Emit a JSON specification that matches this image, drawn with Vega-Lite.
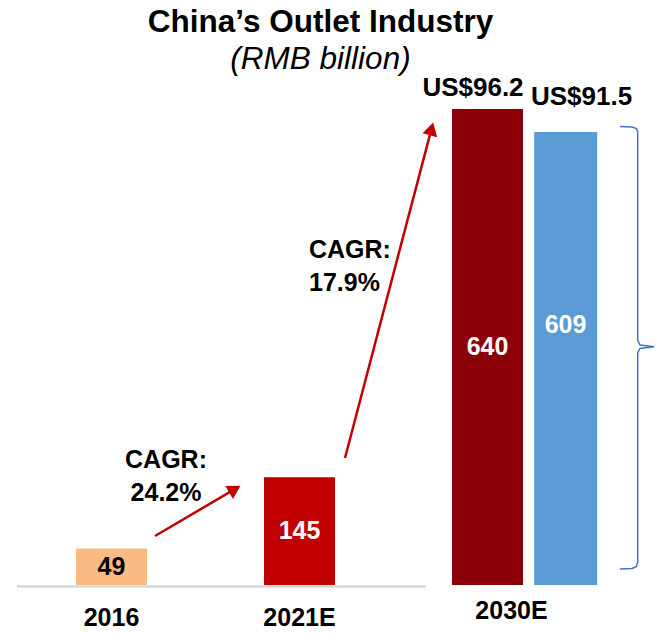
{
  "$schema": "https://vega.github.io/schema/vega-lite/v6.json",
  "width": 659,
  "height": 505,
  "autosize": {"type": "none"},
  "padding": {"left": 0, "top": 80, "right": 0, "bottom": 51},
  "background": "white",
  "config": {"view": {"stroke": null}},
  "title": {
    "text": "China’s Outlet Industry",
    "subtitle": "(RMB billion)",
    "anchor": "middle",
    "dx": -9,
    "offset": 0,
    "subtitlePadding": 5,
    "font": "Liberation Sans",
    "fontSize": 31.5,
    "fontWeight": "bold",
    "color": "#000000",
    "subtitleFont": "Liberation Sans",
    "subtitleFontSize": 31.5,
    "subtitleFontStyle": "italic",
    "subtitleColor": "#000000"
  },
  "datasets": {
    "bars": [
      {"period": "2016", "series": "RMB", "key": "2016", "value": 49, "usd": ""},
      {"period": "2021E", "series": "RMB", "key": "2021E", "value": 145, "usd": ""},
      {"period": "2030E", "series": "RMB", "key": "2030E RMB", "value": 640, "usd": "US$96.2"},
      {"period": "2030E", "series": "USD", "key": "2030E USD", "value": 609, "usd": "US$91.5"}
    ],
    "arrows": [
      {"id": "a1", "x": 0.2314, "y": 65.9, "x2": 0.6559, "y2": 128.9},
      {"id": "a2", "x": 1.2420, "y": 170.8, "x2": 1.7021, "y2": 613.3}
    ],
    "notes": [
      {"id": "n1", "x": 0.2899, "y": 168.1, "text": "CAGR:\n24.2%"},
      {"id": "n2", "x": 1.0505, "y": 450.4, "text": "CAGR:\n17.9%"}
    ],
    "brace": [
      {"i": 1, "x": 2.7048, "y": 616.5},
      {"i": 2, "x": 2.7686, "y": 615.8},
      {"i": 3, "x": 2.7926, "y": 613.8},
      {"i": 4, "x": 2.7989, "y": 609.1},
      {"i": 5, "x": 2.7989, "y": 329.4},
      {"i": 6, "x": 2.8112, "y": 322.7},
      {"i": 7, "x": 2.8856, "y": 320.4},
      {"i": 8, "x": 2.8112, "y": 318.0},
      {"i": 9, "x": 2.7989, "y": 311.9},
      {"i": 10, "x": 2.7989, "y": 30.9},
      {"i": 11, "x": 2.7926, "y": 24.9},
      {"i": 12, "x": 2.7686, "y": 22.2},
      {"i": 13, "x": 2.7048, "y": 21.5}
    ]
  },
  "resolve": {"scale": {"x": "independent"}},
  "layer": [
    {
      "layer": [
        {
          "data": {"values": [{"from": -0.5027, "to": 1.6729}]},
          "mark": {"type": "rule", "color": "#D9D9D9", "strokeWidth": 2.5},
          "encoding": {
            "x": {"field": "from", "type": "quantitative", "axis": null, "scale": {"domain": [-0.5931, 2.9122], "nice": false, "zero": false}},
            "x2": {"field": "to"},
            "y": {"datum": -2, "type": "quantitative", "axis": null, "scale": {"domain": [0, 679], "nice": false, "zero": false}}
          }
        },
        {
          "data": {"name": "arrows"},
          "mark": {"type": "rule", "color": "#C00000", "strokeWidth": 2.5},
          "encoding": {
            "x": {"field": "x", "type": "quantitative", "axis": null, "scale": {"domain": [-0.5931, 2.9122], "nice": false, "zero": false}},
            "x2": {"field": "x2"},
            "y": {"field": "y", "type": "quantitative", "axis": null, "scale": {"domain": [0, 679], "nice": false, "zero": false}},
            "y2": {"field": "y2"}
          }
        },
        {
          "data": {"name": "arrows"},
          "transform": [{"filter": "datum.id === 'a1'"}],
          "mark": {"type": "point", "shape": "triangle-up", "filled": true, "size": 230, "angle": 59.5, "color": "#C00000", "opacity": 1},
          "encoding": {
            "x": {"field": "x2", "type": "quantitative", "axis": null, "scale": {"domain": [-0.5931, 2.9122], "nice": false, "zero": false}},
            "y": {"field": "y2", "type": "quantitative", "axis": null, "scale": {"domain": [0, 679], "nice": false, "zero": false}}
          }
        },
        {
          "data": {"name": "arrows"},
          "transform": [{"filter": "datum.id === 'a2'"}],
          "mark": {"type": "point", "shape": "triangle-up", "filled": true, "size": 230, "angle": 14.7, "color": "#C00000", "opacity": 1},
          "encoding": {
            "x": {"field": "x2", "type": "quantitative", "axis": null, "scale": {"domain": [-0.5931, 2.9122], "nice": false, "zero": false}},
            "y": {"field": "y2", "type": "quantitative", "axis": null, "scale": {"domain": [0, 679], "nice": false, "zero": false}}
          }
        },
        {
          "data": {"name": "notes"},
          "transform": [{"filter": "datum.id === 'n1'"}],
          "mark": {"type": "text", "align": "center", "baseline": "middle", "lineBreak": "\n", "lineHeight": 33, "font": "Liberation Sans", "fontSize": 25, "fontWeight": "bold", "color": "#000000"},
          "encoding": {
            "x": {"field": "x", "type": "quantitative", "axis": null, "scale": {"domain": [-0.5931, 2.9122], "nice": false, "zero": false}},
            "y": {"field": "y", "type": "quantitative", "axis": null, "scale": {"domain": [0, 679], "nice": false, "zero": false}},
            "text": {"field": "text"}
          }
        },
        {
          "data": {"name": "notes"},
          "transform": [{"filter": "datum.id === 'n2'"}],
          "mark": {"type": "text", "align": "left", "baseline": "middle", "lineBreak": "\n", "lineHeight": 33, "font": "Liberation Sans", "fontSize": 25, "fontWeight": "bold", "color": "#000000"},
          "encoding": {
            "x": {"field": "x", "type": "quantitative", "axis": null, "scale": {"domain": [-0.5931, 2.9122], "nice": false, "zero": false}},
            "y": {"field": "y", "type": "quantitative", "axis": null, "scale": {"domain": [0, 679], "nice": false, "zero": false}},
            "text": {"field": "text"}
          }
        },
        {
          "data": {"name": "brace"},
          "mark": {"type": "line", "color": "#4472C4", "strokeWidth": 1.5},
          "encoding": {
            "x": {"field": "x", "type": "quantitative", "axis": null, "scale": {"domain": [-0.5931, 2.9122], "nice": false, "zero": false}},
            "y": {"field": "y", "type": "quantitative", "axis": null, "scale": {"domain": [0, 679], "nice": false, "zero": false}},
            "order": {"field": "i", "type": "quantitative"}
          }
        }
      ]
    },
    {
      "data": {"name": "bars"},
      "layer": [
        {
          "transform": [{"filter": "datum.series === 'RMB'"}],
          "mark": {"type": "bar"},
          "encoding": {
            "x": {"field": "period", "type": "nominal", "axis": null, "scale": {"domain": ["2016", "2021E", "2030E"], "paddingInner": 0.2287, "paddingOuter": 0.367, "align": 0.5507}},
            "xOffset": {"field": "series", "type": "nominal", "scale": {"domain": ["RMB", "USD"], "paddingInner": 0.0405, "paddingOuter": 0}},
            "y": {"field": "value", "type": "quantitative", "axis": null, "scale": {"domain": [0, 679], "nice": false, "zero": false}},
            "color": {"field": "key", "type": "nominal", "legend": null, "scale": {"domain": ["2016", "2021E", "2030E RMB", "2030E USD"], "range": ["#F8BB84", "#C00000", "#8C000A", "#5B9BD5"]}}
          }
        },
        {
          "transform": [{"filter": "datum.series === 'USD'"}],
          "mark": {"type": "bar", "width": {"band": 0.887}},
          "encoding": {
            "x": {"field": "period", "type": "nominal", "axis": null, "scale": {"domain": ["2016", "2021E", "2030E"], "paddingInner": 0.2287, "paddingOuter": 0.367, "align": 0.5507}},
            "xOffset": {"field": "series", "type": "nominal", "scale": {"domain": ["RMB", "USD"], "paddingInner": 0.0405, "paddingOuter": 0}},
            "y": {"field": "value", "type": "quantitative", "axis": null, "scale": {"domain": [0, 679], "nice": false, "zero": false}},
            "color": {"field": "key", "type": "nominal", "legend": null, "scale": {"domain": ["2016", "2021E", "2030E RMB", "2030E USD"], "range": ["#F8BB84", "#C00000", "#8C000A", "#5B9BD5"]}}
          }
        },
        {
          "transform": [{"filter": "datum.series === 'RMB'"}, {"calculate": "datum.value / 2", "as": "mid"}],
          "mark": {"type": "text", "align": "center", "baseline": "middle", "font": "Liberation Sans", "fontSize": 25, "fontWeight": "bold"},
          "encoding": {
            "x": {"field": "period", "type": "nominal", "axis": null, "scale": {"domain": ["2016", "2021E", "2030E"], "paddingInner": 0.2287, "paddingOuter": 0.367, "align": 0.5507}},
            "xOffset": {"field": "series", "type": "nominal", "scale": {"domain": ["RMB", "USD"], "paddingInner": 0.0405, "paddingOuter": 0}},
            "y": {"field": "mid", "type": "quantitative", "axis": null, "scale": {"domain": [0, 679], "nice": false, "zero": false}},
            "text": {"field": "value", "type": "quantitative"},
            "color": {"condition": {"test": "datum.period === '2016'", "value": "#000000"}, "value": "#FFFFFF"}
          }
        },
        {
          "transform": [{"filter": "datum.series === 'USD'"}, {"calculate": "datum.value / 2", "as": "mid"}],
          "mark": {"type": "text", "align": "center", "baseline": "middle", "dx": 4, "dy": -34, "font": "Liberation Sans", "fontSize": 25, "fontWeight": "bold", "color": "#FFFFFF"},
          "encoding": {
            "x": {"field": "period", "type": "nominal", "axis": null, "scale": {"domain": ["2016", "2021E", "2030E"], "paddingInner": 0.2287, "paddingOuter": 0.367, "align": 0.5507}},
            "xOffset": {"field": "series", "type": "nominal", "scale": {"domain": ["RMB", "USD"], "paddingInner": 0.0405, "paddingOuter": 0}},
            "y": {"field": "mid", "type": "quantitative", "axis": null, "scale": {"domain": [0, 679], "nice": false, "zero": false}},
            "text": {"field": "value", "type": "quantitative"}
          }
        },
        {
          "transform": [{"filter": "datum.key === '2030E RMB'"}],
          "mark": {"type": "text", "align": "center", "baseline": "alphabetic", "dx": -14.5, "dy": -13, "font": "Liberation Sans", "fontSize": 26, "fontWeight": "bold", "color": "#000000"},
          "encoding": {
            "x": {"field": "period", "type": "nominal", "axis": null, "scale": {"domain": ["2016", "2021E", "2030E"], "paddingInner": 0.2287, "paddingOuter": 0.367, "align": 0.5507}},
            "xOffset": {"field": "series", "type": "nominal", "scale": {"domain": ["RMB", "USD"], "paddingInner": 0.0405, "paddingOuter": 0}},
            "y": {"field": "value", "type": "quantitative", "axis": null, "scale": {"domain": [0, 679], "nice": false, "zero": false}},
            "text": {"field": "usd"}
          }
        },
        {
          "transform": [{"filter": "datum.key === '2030E USD'"}],
          "mark": {"type": "text", "align": "center", "baseline": "alphabetic", "dx": 20, "dy": -27, "font": "Liberation Sans", "fontSize": 26, "fontWeight": "bold", "color": "#000000"},
          "encoding": {
            "x": {"field": "period", "type": "nominal", "axis": null, "scale": {"domain": ["2016", "2021E", "2030E"], "paddingInner": 0.2287, "paddingOuter": 0.367, "align": 0.5507}},
            "xOffset": {"field": "series", "type": "nominal", "scale": {"domain": ["RMB", "USD"], "paddingInner": 0.0405, "paddingOuter": 0}},
            "y": {"field": "value", "type": "quantitative", "axis": null, "scale": {"domain": [0, 679], "nice": false, "zero": false}},
            "text": {"field": "usd"}
          }
        },
        {
          "transform": [{"filter": "datum.period !== '2030E'"}],
          "mark": {"type": "text", "align": "center", "baseline": "middle", "font": "Liberation Sans", "fontSize": 25, "fontWeight": "bold", "color": "#000000"},
          "encoding": {
            "x": {"field": "period", "type": "nominal", "axis": null, "scale": {"domain": ["2016", "2021E", "2030E"], "paddingInner": 0.2287, "paddingOuter": 0.367, "align": 0.5507}},
            "xOffset": {"field": "series", "type": "nominal", "scale": {"domain": ["RMB", "USD"], "paddingInner": 0.0405, "paddingOuter": 0}},
            "y": {"datum": -44.4, "type": "quantitative", "axis": null, "scale": {"domain": [0, 679], "nice": false, "zero": false}},
            "text": {"field": "period"}
          }
        },
        {
          "transform": [{"filter": "datum.key === '2030E RMB'"}],
          "mark": {"type": "text", "align": "center", "baseline": "middle", "dx": -13, "font": "Liberation Sans", "fontSize": 25, "fontWeight": "bold", "color": "#000000"},
          "encoding": {
            "x": {"field": "period", "type": "nominal", "axis": null, "scale": {"domain": ["2016", "2021E", "2030E"], "paddingInner": 0.2287, "paddingOuter": 0.367, "align": 0.5507}},
            "y": {"datum": -35, "type": "quantitative", "axis": null, "scale": {"domain": [0, 679], "nice": false, "zero": false}},
            "text": {"field": "period"}
          }
        }
      ]
    }
  ]
}
